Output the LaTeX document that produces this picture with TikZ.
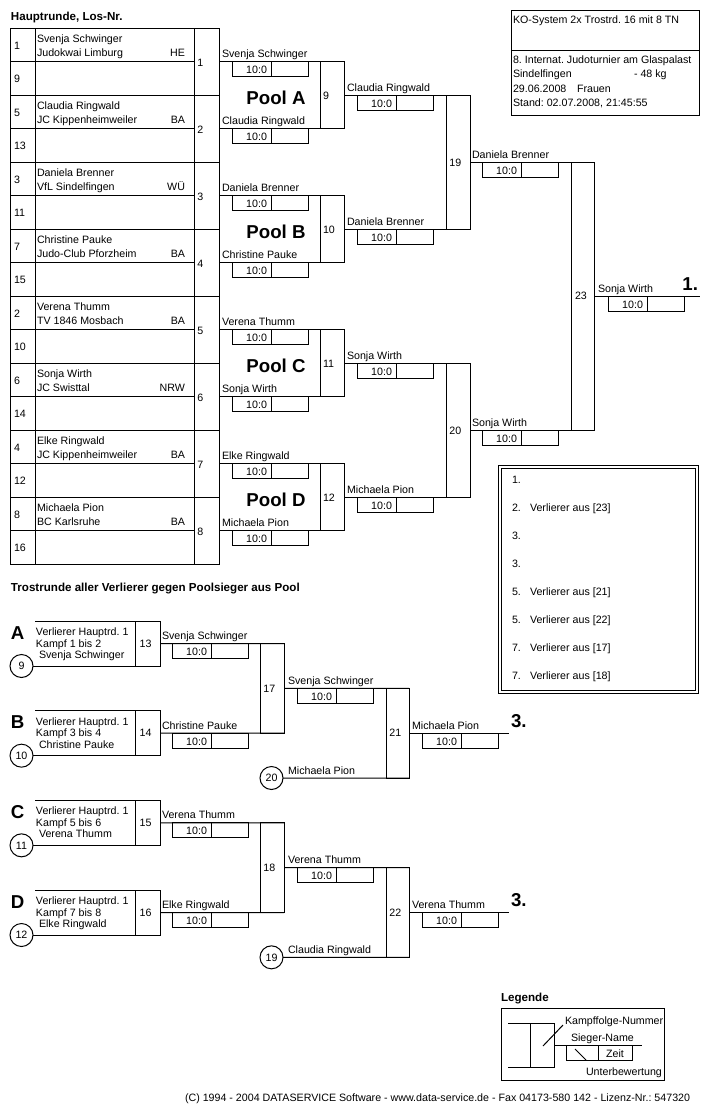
\documentclass[tikz,border=0pt]{standalone}
\usepackage{fontspec}
\setmainfont{Liberation Sans}
\newcommand\scbox[3]{%
  \draw (#2,#3) rectangle ++(76,15) (#2+39,#3) -- ++(0,15);
  \node[txt,anchor=base east] (#1) at (#2+35,#3+12) {10:0};}
\begin{document}
\frenchspacing
\begin{tikzpicture}[x=0.75pt,y=-0.75pt,line width=0.75pt,
  txt/.style={font=\fontsize{8}{9.6}\selectfont, inner sep=0pt, outer sep=0pt},
  big/.style={font=\fontsize{14}{16}\selectfont\bfseries, inner sep=0pt, outer sep=0pt},
  hdr/.style={font=\fontsize{8.7}{10}\selectfont\bfseries, inner sep=0pt, outer sep=0pt},
  mbox/.style={draw, inner sep=0pt, outer sep=0pt},
  circ/.style={circle, draw, minimum size=17.25pt, inner sep=0pt, outer sep=0pt, font=\fontsize{8}{9.6}\selectfont}]
\fill[white] (0,0) rectangle (700,1110);
\useasboundingbox (0,0) rectangle (700,1110);

% ---------- headings
\node[hdr, anchor=base west] (h1) at (11,20) {Hauptrunde, Los-Nr.};
\node[hdr, anchor=base west] (h2) at (11,591) {Trostrunde aller Verlierer gegen Poolsieger aus Pool};

% ---------- info box
\draw (511,10) rectangle (699,115);
\draw (511,50) -- (699,50);
\node[txt, anchor=base west] (i1) at (513,23) {KO-System 2x Trostrd. 16 mit 8 TN};
\node[txt, anchor=base west] (i2) at (513,63) {8. Internat. Judoturnier am Glaspalast};
\node[txt, anchor=base west] (i3) at (513,77.5) {Sindelfingen};
\node[txt, anchor=base west] (i4) at (634,77.5) {- 48 kg};
\node[txt, anchor=base west] (i5) at (513,92) {29.06.2008};
\node[txt, anchor=base west] (i6) at (577,92) {Frauen};
\node[txt, anchor=base west] (i7) at (513,106.5) {Stand: 02.07.2008, 21:45:55};

% ---------- main table
\draw (10,28) rectangle (219,564);
\draw (35,28) -- (35,564) (194,28) -- (194,564);
\foreach \i in {1,...,15} \draw (10,28+33.5*\i) -- (194,28+33.5*\i);
\foreach \i/\los in {0/1,1/9,2/5,3/13,4/3,5/11,6/7,7/15,8/2,9/10,10/6,11/14,12/4,13/12,14/8,15/16}
  \node[txt, anchor=base west] (los\i) at (14,28+33.5*\i+21) {\los};
\foreach \j/\a/\b/\c in {0/Svenja Schwinger/Judokwai Limburg/HE,
  1/Claudia Ringwald/JC Kippenheimweiler/BA,
  2/Daniela Brenner/VfL Sindelfingen/WÜ,
  3/Christine Pauke/Judo-Club Pforzheim/BA,
  4/Verena Thumm/TV 1846 Mosbach/BA,
  5/Sonja Wirth/JC Swisttal/NRW,
  6/Elke Ringwald/JC Kippenheimweiler/BA,
  7/Michaela Pion/BC Karlsruhe/BA} {
  \node[txt, anchor=base west] (pa\j) at (37,28+67*\j+14.5) {\a};
  \node[txt, anchor=base west] (pb\j) at (37,28+67*\j+28.5) {\b};
  \node[txt, anchor=base east] (pc\j) at (185,28+67*\j+28.5) {\c};
}

% ---------- round 1 (matches 1-8)
\foreach \k/\nm in {1/Svenja Schwinger,2/Claudia Ringwald,3/Daniela Brenner,4/Christine Pauke,
  5/Verena Thumm,6/Sonja Wirth,7/Elke Ringwald,8/Michaela Pion} {
  \pgfmathsetmacro\yy{61.5+67*(\k-1)}
  \node[mbox, minimum width=18.75pt, minimum height=50.25pt] (m\k) at (206.5,\yy) {};
  \node[txt, anchor=west, yshift=-1pt] (n\k) at ([xshift=2.5pt]m\k.west) {\k};
  \node[txt, anchor=base west] (w\k) at (222,\yy-4) {\nm};
  \scbox{sc\k}{232}{\yy}
}

% ---------- pools (matches 9-12)
\foreach \p/\q/\a/\b/\L/\nm in {1/9/1/2/A/Claudia Ringwald,2/10/3/4/B/Daniela Brenner,
  3/11/5/6/C/Sonja Wirth,4/12/7/8/D/Michaela Pion} {
  \pgfmathsetmacro\yy{95+134*(\p-1)}
  \node[mbox, minimum width=18pt, minimum height=50.25pt] (m\q) at (332,\yy) {};
  \node[txt, anchor=west, yshift=-0.75pt] (n\q) at ([xshift=2.25pt]m\q.west) {\q};
  \draw (m\a.east) -- (m\q.north east);
  \draw (m\b.east) -- (m\q.south east);
  \node[big] (pool\L) at (276,\yy+3) {Pool \L};
  \node[txt, anchor=base west] (w\q) at (347,\yy-4) {\nm};
  \scbox{sc\q}{357}{\yy}
}

% ---------- semifinals 19, 20
\foreach \q/\a/\b/\yy/\nm in {19/9/10/162/Daniela Brenner,20/11/12/430/Sonja Wirth} {
  \node[mbox, minimum width=18pt, minimum height=100.5pt] (m\q) at (458,\yy) {};
  \node[txt, anchor=west, yshift=-0.75pt] (n\q) at ([xshift=2.5pt]m\q.west) {\q};
  \draw (m\a.east) -- (m\q.north east);
  \draw (m\b.east) -- (m\q.south east);
  \node[txt, anchor=base west] (w\q) at (472,\yy-4) {\nm};
  \scbox{sc\q}{482}{\yy}
}

% ---------- final 23
\node[mbox, minimum width=17.25pt, minimum height=201pt] (m23) at (582.5,296) {};
\node[txt, anchor=west] (n23) at ([xshift=3pt]m23.west) {23};
\draw (m19.east) -- (m23.north east);
\draw (m20.east) -- (m23.south east);
\coordinate (fin) at (699.5,296);
\draw (m23.east) -- (fin);
\node[txt, anchor=base west] (w23) at (598,292) {Sonja Wirth};
\scbox{sc23}{608}{296}
\node[big, anchor=base east] (first) at (698,290) {1.};

% ---------- results box
\draw (498,465) rectangle (698,693);
\draw (501,468) rectangle (695,690);
\foreach \k/\r in {0/1.,1/2.,2/3.,3/3.,4/5.,5/5.,6/7.,7/7.}
  \node[txt, anchor=base west] (rk\k) at (512,483+28*\k) {\r};
\foreach \k/\v in {1/23,4/21,5/22,6/17,7/18}
  \node[txt, anchor=base west] (rv\k) at (530,483+28*\k) {Verlierer aus [\v]};

% ---------- Trostrunde first round (13-16)
\foreach \j/\L/\kf/\nm/\ci/\mn in {0/A/1 bis 2/Svenja Schwinger/9/13,
  1/B/3 bis 4/Christine Pauke/10/14,
  2/C/5 bis 6/Verena Thumm/11/15,
  3/D/7 bis 8/Elke Ringwald/12/16} {
  \pgfmathsetmacro\ty{621+89.67*\j}
  \node[mbox, minimum width=18.75pt, minimum height=33.75pt] (m\mn) at (147.5,\ty+22.5) {};
  \node[txt, anchor=west] (n\mn) at ([xshift=3.5pt]m\mn.west) {\mn};
  \coordinate (tl\mn) at (35,\ty);
  \draw (tl\mn) -- (m\mn.north east);
  \node[circ] (c\ci) at (21.5,\ty+45) {\ci};
  \draw (c\ci.east) -- (m\mn.south east);
  \node[big, anchor=base west] (let\L) at (11,\ty+18) {\L};
  \node[txt, anchor=base west] (va\mn) at (36,\ty+14.5) {Verlierer Hauptrd. 1};
  \node[txt, anchor=base west] (vb\mn) at (36,\ty+26) {Kampf \kf};
  \node[txt, anchor=base west] (vc\mn) at (39,\ty+37.5) {\nm};
  \node[txt, anchor=base west] (w\mn) at (162,\ty+18.5) {\nm};
  \scbox{sc\mn}{172}{\ty+22.5}
}

% ---------- Trostrunde 17, 18
\foreach \q/\a/\b/\yy/\nm in {17/13/14/688.33/Svenja Schwinger,18/15/16/867.67/Verena Thumm} {
  \node[mbox, minimum width=18pt, minimum height=67.25pt] (m\q) at (272,\yy) {};
  \node[txt, anchor=west] (n\q) at ([xshift=2.5pt]m\q.west) {\q};
  \draw (m\a.east) -- (m\q.north east);
  \draw (m\b.east) -- (m\q.south east);
  \node[txt, anchor=base west] (w\q) at (288,\yy-4) {\nm};
  \scbox{sc\q}{297}{\yy}
}

% ---------- Trostrunde 21, 22
\foreach \q/\a/\ci/\yy/\lnm/\nm in {21/17/20/733.17/Michaela Pion/Michaela Pion,
  22/18/19/912.5/Claudia Ringwald/Verena Thumm} {
  \node[mbox, minimum width=17.25pt, minimum height=67.25pt] (m\q) at (397.5,\yy) {};
  \node[txt, anchor=west] (n\q) at ([xshift=2.5pt]m\q.west) {\q};
  \node[circ] (c\ci) at (271.5,\yy+44.83) {\ci};
  \draw (m\a.east) -- (m\q.north east);
  \draw (c\ci.east) -- (m\q.south east);
  \node[txt, anchor=base west] (l\q) at (288,\yy+40.83) {\lnm};
  \coordinate (e\q) at (509,\yy);
  \draw (m\q.east) -- (e\q);
  \node[txt, anchor=base west] (w\q) at (412,\yy-4) {\nm};
  \scbox{sc\q}{422}{\yy}
  \node[big, anchor=base west] (third\q) at (511,\yy-6) {3.};
}

% ---------- legend
\node[hdr, anchor=base west] (leg) at (501,1001) {Legende};
\draw (501,1008) rectangle (664,1080);
\node[mbox, minimum width=18pt, minimum height=33pt] (lgm) at (542,1045) {};
\coordinate (lga) at (508,1023);
\coordinate (lgb) at (508,1067);
\coordinate (lgc) at (642,1045);
\draw (lga) -- (lgm.north west);
\draw (lgb) -- (lgm.south west);
\draw (lgm.east) -- (lgc);
\draw (566,1045) rectangle (632,1060) (598,1045) -- (598,1060);
\node[txt, anchor=base] (zeit) at (615,1057) {Zeit};
\draw (543,1046) -- (563,1025);
\draw (575,1049) -- (586,1060);
\node[txt, anchor=base west] (lk) at (565,1024) {Kampffolge-Nummer};
\node[txt, anchor=base west] (ls) at (571,1041) {Sieger-Name};
\node[txt, anchor=base west] (lu) at (586,1075) {Unterbewertung};

% ---------- footer
\node[txt, anchor=base west] (foot) at (185,1101) {(C) 1994 - 2004 DATASERVICE Software - www.data-service.de - Fax 04173-580 142 - Lizenz-Nr.: 547320};
\end{tikzpicture}
\end{document}
